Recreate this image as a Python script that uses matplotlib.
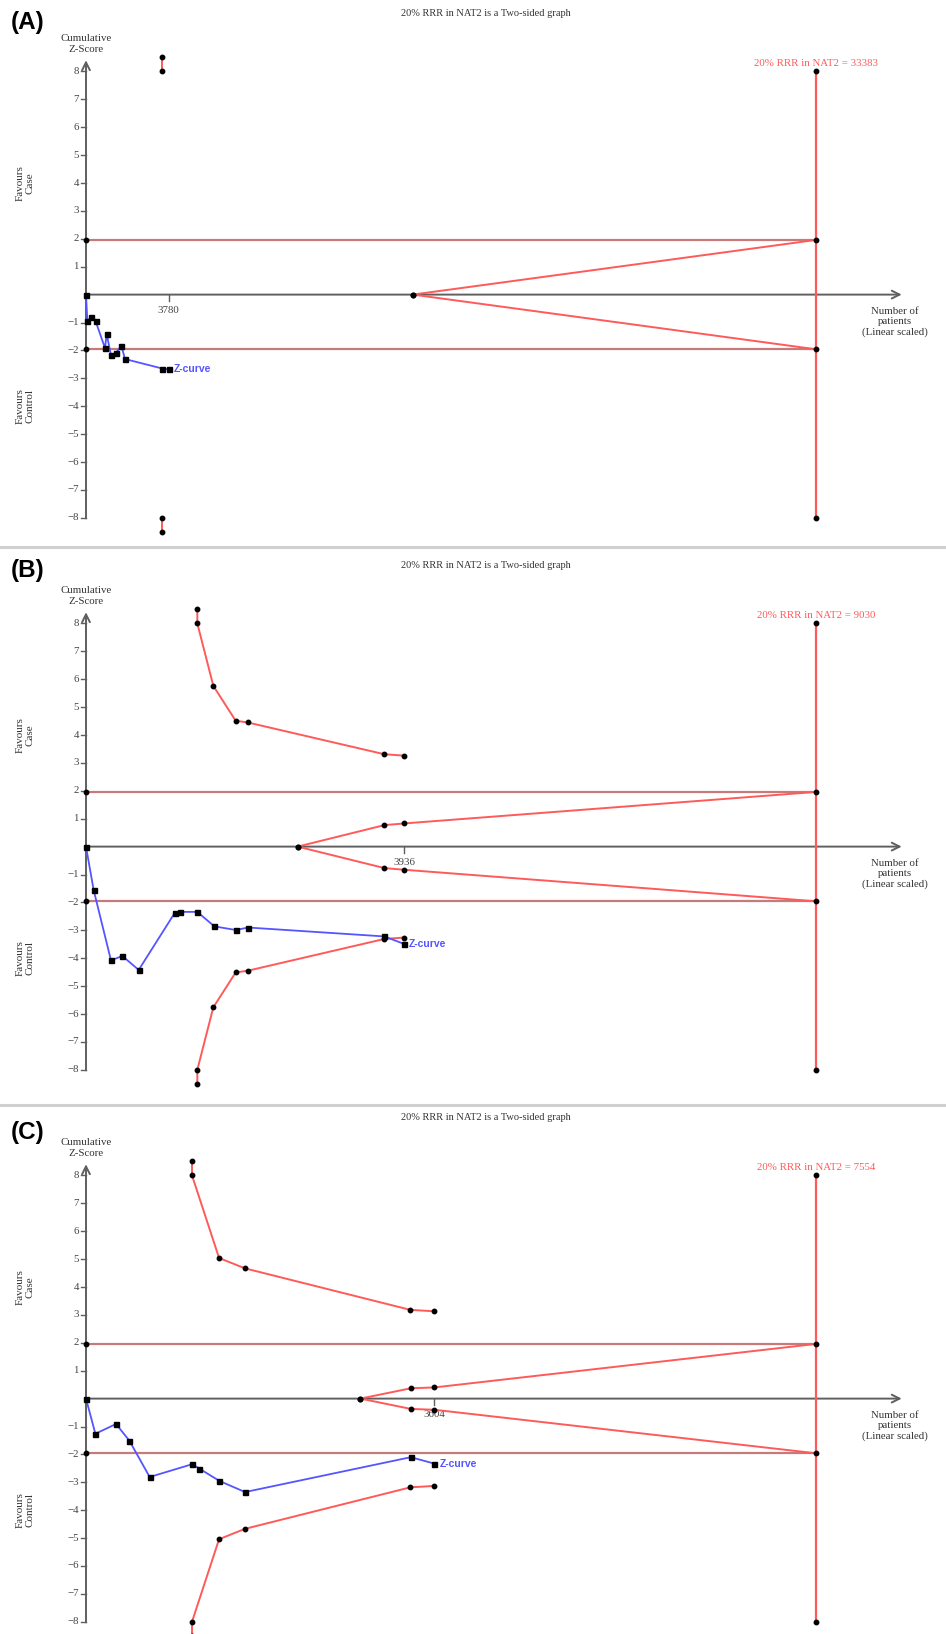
import matplotlib
matplotlib.use("Agg")
import matplotlib.pyplot as plt

# figure size in pixels
W, H = 946, 1634

# ---- panel data (patients, cumulative z) ----
panel_tags = ["(A)", "(B)", "(C)"]
ris_values = [33383, 9030, 7554]
tick_values = [3780, 3936, 3604]

a_n = [0, 61, 229, 443, 869, 946, 1144, 1357, 1616, 1784, 3492, 3780]
a_z = [0, -0.94, -0.82, -0.96, -1.92, -1.41, -2.18, -2.11, -1.83, -2.31, -2.65, -2.68]
a_bound_n = [3490, 3490]
a_bound_z = [8.51, 8.0]
a_fut_n = [14947, 33383]
a_fut_z = [0, 1.96]

b_n = [0, 95, 309, 449, 652, 1097, 1167, 1377, 1588, 1856, 2004, 3691, 3936]
b_z = [0, -1.56, -4.08, -3.92, -4.42, -2.38, -2.34, -2.34, -2.86, -2.99, -2.90, -3.22, -3.49]
b_bound_n = [1377, 1377, 1575, 1852, 2000, 3691, 3936]
b_bound_z = [8.51, 8.0, 5.76, 4.51, 4.45, 3.31, 3.26]
b_fut_n = [2619, 3691, 3936, 9030]
b_fut_z = [0, 0.77, 0.83, 1.96]

c_n = [0, 97, 311, 449, 659, 1100, 1173, 1380, 1646, 3361, 3604]
c_z = [0, -1.26, -0.91, -1.51, -2.81, -2.35, -2.51, -2.95, -3.35, -2.10, -2.33]
c_bound_n = [1097, 1097, 1377, 1643, 3357, 3604]
c_bound_z = [8.52, 8.0, 5.04, 4.67, 3.18, 3.13]
c_fut_n = [2840, 3361, 3604, 7554]
c_fut_z = [0, 0.37, 0.40, 1.96]

zcurves = [(a_n, a_z), (b_n, b_z), (c_n, c_z)]
bounds = [(a_bound_n, a_bound_z), (b_bound_n, b_bound_z), (c_bound_n, c_bound_z)]
futs = [(a_fut_n, a_fut_z), (b_fut_n, b_fut_z), (c_fut_n, c_fut_z)]

# colours
GREY = "#5f5f5f"
RED = "#ff5a5a"
BROWN = "#c67a7a"
BLUE = "#5555ff"
SERIF = "Liberation Serif"

fig = plt.figure(figsize=(W / 100, H / 100), dpi=100)

X0 = 86       # pixel x of the y axis
XR = 816      # pixel x of the required information size line
Y0 = 294.6    # pixel y of z=0 inside a panel
UNIT = 27.9   # pixels per z unit
PANEL_H = 552
tag_y = [23, 19, 29]


def ftext(x, y, s, **kw):
    fig.text(x / W, 1 - y / H, s, **kw)


for i in range(3):
    top = i * PANEL_H
    bottom = min(top + PANEL_H, H)
    ph = bottom - top
    N = ris_values[i]
    s = (XR - X0) / N  # px per patient
    ax = fig.add_axes([0, 1 - bottom / H, 1, ph / H])
    ax.set_xlim(-X0 / s, (W - X0) / s)
    ax.set_ylim((Y0 - ph) / UNIT, Y0 / UNIT)
    ax.axis("off")
    px = 1 / s  # one pixel in patients

    # axes with open arrow heads
    ax.annotate("", xy=(0, 8.4), xytext=(0, -8.02),
                arrowprops=dict(arrowstyle="->", color=GREY, lw=1.4,
                                shrinkA=0, shrinkB=0, mutation_scale=14))
    ax.annotate("", xy=((901.7 - X0) * px, 0), xytext=(0, 0),
                arrowprops=dict(arrowstyle="->", color=GREY, lw=1.4,
                                shrinkA=0, shrinkB=0, mutation_scale=14))

    # y ticks
    for k in range(-8, 9):
        if k == 0:
            continue
        ax.plot([-5 * px, 0], [k, k], color=GREY, lw=1)
        lab = str(k) if k > 0 else "\u2212" + str(-k)
        ax.text(-7 * px, k, lab, ha="right", va="center", fontsize=7.8,
                family=SERIF, color="#444444")

    # x tick
    t = tick_values[i]
    ax.plot([t, t], [0, -6 / UNIT], color=GREY, lw=1)
    ax.text(t, -0.42, str(t), ha="center", va="top", fontsize=7.8,
            family=SERIF, color="#444444")

    # conventional boundaries +-1.96
    for zz in (1.96, -1.96):
        ax.plot([0, N], [zz, zz], color=BROWN, lw=1.6, zorder=2)
        ax.plot([0, N], [zz, zz], "o", color="black", ms=3.2, zorder=5)

    # required information size line
    ax.plot([N, N], [-8, 8], color=RED, lw=1.6, zorder=3)
    ax.plot([N, N], [-8, 8], "o", color="black", ms=3.2, zorder=5)

    # futility wedge
    fn, fz = futs[i]
    for sign in (1, -1):
        ax.plot(fn, [sign * v for v in fz], color=RED, lw=1.4, zorder=3)
        ax.plot(fn[:-1], [sign * v for v in fz[:-1]], "o", color="black",
                ms=3.2, zorder=5)

    # monitoring boundaries
    bn, bz = bounds[i]
    for sign in (1, -1):
        ax.plot(bn, [sign * v for v in bz], color=RED, lw=1.4, zorder=3,
                marker="o", ms=3.2, mfc="black", mec="black")

    # z-curve
    zn, zv = zcurves[i]
    ax.plot(zn, zv, color=BLUE, lw=1.3, zorder=4, marker="s", ms=3.6,
            mfc="black", mec="black")
    ax.text(zn[-1] + 5 * px, zv[-1], "Z-curve", color=BLUE, fontsize=7.5,
            fontweight="bold", family="Liberation Sans", va="center",
            ha="left")

    # panel texts
    ftext(11, top + tag_y[i], panel_tags[i], fontsize=17.5, fontweight="bold",
          family="Liberation Sans", va="center", ha="left")
    ftext(486, top + 14, "20% RRR in NAT2 is a Two-sided graph", fontsize=7.5,
          family=SERIF, color="#333333", ha="center", va="center")
    ftext(86, top + 44, "Cumulative\nZ-Score", fontsize=7.8, family=SERIF,
          color="#333333", ha="center", va="center", linespacing=1.3)
    ftext(816, top + 64, "20% RRR in NAT2 = " + str(N), fontsize=7.8,
          family=SERIF, color=RED, ha="center", va="center")
    ftext(25, top + Y0 - 4 * UNIT, "Favours\nCase", fontsize=8, family=SERIF,
          color="#333333", rotation=90, ha="center", va="center",
          linespacing=1.15)
    ftext(25, top + Y0 + 4 * UNIT, "Favours\nControl", fontsize=8,
          family=SERIF, color="#333333", rotation=90, ha="center",
          va="center", linespacing=1.15)
    ftext(895, top + 322, "Number of\npatients\n(Linear scaled)", fontsize=7.8,
          family=SERIF, color="#333333", ha="center", va="center",
          linespacing=1.2)

# grey dividers between panels
for yy in (547, 1105):
    fig.add_artist(plt.Line2D([0, 1], [1 - yy / H, 1 - yy / H],
                              transform=fig.transFigure, color="#d0d0d0",
                              lw=2.2))

fig.savefig("out.png", dpi=100)
